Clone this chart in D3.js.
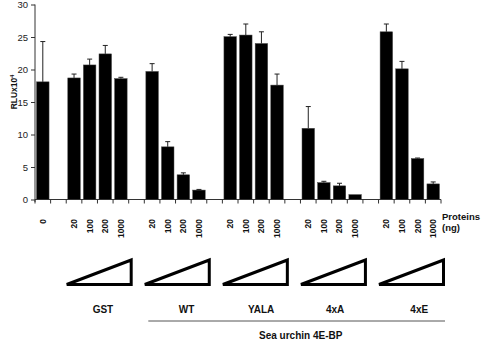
<!DOCTYPE html>
<html>
<head>
<meta charset="utf-8">
<script src="https://cdn.jsdelivr.net/npm/d3@7"></script>
<style>
  html, body { margin: 0; padding: 0; background: #fff; }
  svg { display: block; font-family: "Liberation Sans", Arial, sans-serif; }
</style>
</head>
<body>
<svg id="chart" width="481" height="342"></svg>
<script>
// Luciferase activity (RLU x10^4) for increasing amounts of each protein
const slotIds = d3.range(26).map(i => "s" + i);
const doseLabels = ["0", "", "20", "100", "200", "1000", "", "20", "100", "200", "1000", "",
                    "20", "100", "200", "1000", "", "20", "100", "200", "1000", "",
                    "20", "100", "200", "1000"];
const rluValues = [18.1, null, 18.7, 20.7, 22.4, 18.6, null, 19.7, 8.1, 3.8, 1.45, null,
                   25.05, 25.3, 24.0, 17.6, null, 10.95, 2.6, 2.1, 0.75, null,
                   25.8, 20.1, 6.3, 2.4];
const rluErrors = [6.2, null, 0.6, 0.9, 1.3, 0.2, null, 1.2, 0.8, 0.3, 0.1, null,
                   0.35, 1.7, 1.8, 1.7, null, 3.35, 0.2, 0.4, 0, null,
                   1.2, 1.15, 0.08, 0.3];
const groupNames = ["GST", "WT", "YALA", "4xA", "4xE"];
const groupFirstSlot = [2, 7, 12, 17, 22];
const yTicks = [0, 5, 10, 15, 20, 25, 30];

const svg = d3.select("#chart");
const axisColor = "#333";

const x = d3.scaleBand().domain(slotIds).range([35, 441])
  .paddingInner(0.2).paddingOuter(0.1);
const step = x.step();
// left edge of slot i (i may equal the slot count for the right end)
const slotStart = i => x.range()[0] + i * step;
const y = d3.scaleLinear().domain([0, 30]).range([199.5, 4.5]);

// y axis
const yAxis = d3.axisLeft(y).tickValues(yTicks).tickSize(4).tickPadding(3);
const gy = svg.append("g").attr("transform", "translate(35,0)").call(yAxis);
gy.select(".domain").attr("stroke", axisColor).attr("d", "M0,4.5V202");
gy.selectAll(".tick line").attr("stroke", axisColor);
gy.selectAll(".tick text").attr("fill", "#222")
  .style("font-size", "9.5px").style("font-family", "Liberation Sans, Arial, sans-serif");

// x baseline with a tick at every slot boundary
svg.append("line").attr("x1", 35).attr("x2", 441)
  .attr("y1", y(0)).attr("y2", y(0)).attr("stroke", axisColor);
svg.selectAll("line.xtick").data(d3.range(27)).join("line")
  .attr("class", "xtick")
  .attr("x1", i => slotStart(i)).attr("x2", i => slotStart(i))
  .attr("y1", y(0)).attr("y2", y(0) + 4).attr("stroke", axisColor);

// bars
const rows = slotIds.map((id, i) => ({ id, v: rluValues[i], e: rluErrors[i], label: doseLabels[i] }));
const filled = rows.filter(d => d.v !== null);
svg.selectAll("rect.bar").data(filled).join("rect")
  .attr("class", "bar")
  .attr("x", d => x(d.id)).attr("width", x.bandwidth())
  .attr("y", d => y(d.v)).attr("height", d => y(0) - y(d.v))
  .attr("fill", "#000").attr("stroke", "#444").attr("stroke-width", 0.5);

// error bars
const errs = filled.filter(d => d.e > 0);
svg.selectAll("line.err").data(errs).join("line")
  .attr("class", "err")
  .attr("x1", d => x(d.id) + x.bandwidth() / 2).attr("x2", d => x(d.id) + x.bandwidth() / 2)
  .attr("y1", d => y(d.v)).attr("y2", d => y(d.v + d.e))
  .attr("stroke", "#222").attr("stroke-width", 1);
svg.selectAll("line.cap").data(errs).join("line")
  .attr("class", "cap")
  .attr("x1", d => x(d.id) + x.bandwidth() / 2 - 2.5).attr("x2", d => x(d.id) + x.bandwidth() / 2 + 2.5)
  .attr("y1", d => y(d.v + d.e)).attr("y2", d => y(d.v + d.e))
  .attr("stroke", "#222").attr("stroke-width", 1);

// dose labels, rotated
svg.selectAll("text.dose").data(rows.filter(d => d.label)).join("text")
  .attr("class", "dose")
  .attr("transform", d => `translate(${x(d.id) + x.bandwidth() / 2},219) rotate(-90)`)
  .attr("dy", "0.35em").attr("text-anchor", "end")
  .style("font-size", "8.5px").style("font-weight", "bold").attr("fill", "#111")
  .text(d => d.label);

svg.append("text").attr("x", 442).attr("y", 220)
  .style("font-size", "9.5px").style("font-weight", "bold").attr("fill", "#111").text("Proteins");
svg.append("text").attr("x", 442).attr("y", 231)
  .style("font-size", "9.5px").style("font-weight", "bold").attr("fill", "#111").text("(ng)");

// y axis title
const yt = svg.append("text")
  .attr("transform", "translate(17,92) rotate(-90)")
  .attr("text-anchor", "middle")
  .style("font-size", "8.5px").style("font-weight", "bold").attr("fill", "#111");
yt.append("tspan").text("RLUx10");
yt.append("tspan").attr("dy", "-3").style("font-size", "5.5px").text("4");

// increasing-dose wedges under each group
const labelNudge = [5.5, 11, 7.5, 3.5, 9.5];
groupFirstSlot.forEach((s, gi) => {
  const x0 = slotStart(s);
  const x1 = slotStart(s + 4);
  svg.append("path")
    .attr("d", `M${x0 + 0.5},284.5 L${x1 + 2.5},284.5 L${x1 + 2.5},260 Z`)
    .attr("fill", "none").attr("stroke", "#000").attr("stroke-width", 3)
    .attr("stroke-linejoin", "miter");
  svg.append("text")
    .attr("x", (x0 + x1) / 2 + labelNudge[gi]).attr("y", 313)
    .attr("text-anchor", "middle")
    .style("font-size", "10px").style("font-weight", "bold").attr("fill", "#111")
    .text(groupNames[gi]);
});

// bracket for the sea urchin 4E-BP variants
svg.append("line")
  .attr("x1", slotStart(7) + 4).attr("x2", slotStart(26) + 4)
  .attr("y1", 321).attr("y2", 321).attr("stroke", "#555").attr("stroke-width", 1);
svg.append("text").attr("x", 259).attr("y", 339)
  .style("font-size", "10px").style("font-weight", "bold").attr("fill", "#111")
  .text("Sea urchin 4E-BP");
</script>
</body>
</html>
